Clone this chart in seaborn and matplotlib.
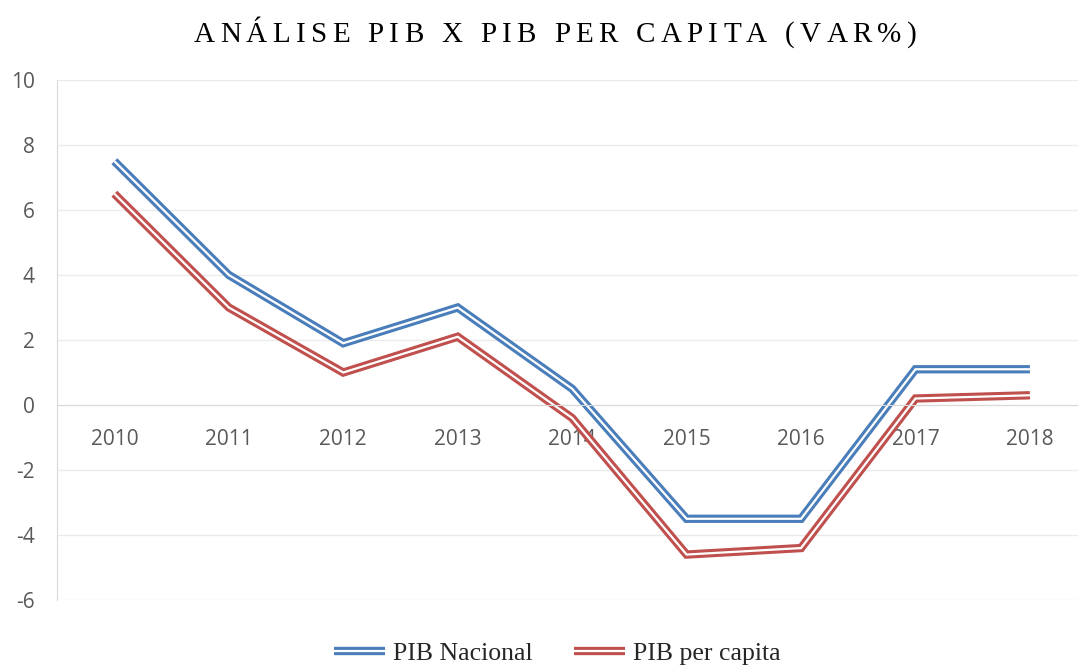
import matplotlib
matplotlib.use("Agg")
import matplotlib.pyplot as plt
import matplotlib.patheffects as pe
import seaborn as sns
import pandas as pd

years = ["2010", "2011", "2012", "2013", "2014", "2015", "2016", "2017", "2018"]
pib_nacional = [7.5, 4.0, 1.9, 3.0, 0.5, -3.5, -3.5, 1.1, 1.1]
pib_per_capita = [6.5, 3.0, 1.0, 2.1, -0.4, -4.6, -4.4, 0.2, 0.3]
series_names = ["PIB Nacional", "PIB per capita"]
colors = ["#4a7ebb", "#c0504d"]
title_text = "ANÁLISE PIB X PIB PER CAPITA (VAR%)"


def double_line(c):
    # Excel-style compound line: thick coloured stroke with a thin white core
    return [pe.Stroke(linewidth=6.0, foreground=c, capstyle="butt", joinstyle="miter"),
            pe.Normal()]


df = pd.DataFrame({
    "ano": list(range(len(years))) * 2,
    "valor": pib_nacional + pib_per_capita,
    "serie": [series_names[0]] * len(years) + [series_names[1]] * len(years),
})

sns.set_style("white")
fig = plt.figure(figsize=(10.78, 6.66), dpi=100)
ax = fig.add_axes([0.053, 0.099, 0.947, 0.781])

sns.lineplot(data=df, x="ano", y="valor", hue="serie", palette=colors,
             ax=ax, legend=False)

for line, c in zip(ax.lines, colors):
    line.set_color("white")
    line.set_linewidth(1.6)
    line.set_solid_capstyle("butt")
    line.set_solid_joinstyle("miter")
    line.set_path_effects(double_line(c))

for s in ["top", "right"]:
    ax.spines[s].set_visible(False)
ax.spines["left"].set_color("#d9d9d9")
ax.spines["bottom"].set_color("#d9d9d9")
ax.spines["bottom"].set_position(("data", 0))

ax.set_ylim(-6, 10)
ax.set_xlim(-0.5, 8.42)
ax.set_yticks(range(-6, 11, 2))
ax.set_yticklabels([str(v) for v in range(-6, 11, 2)],
                   fontsize=15, color="#595959", family="Open Sans")
ax.set_xticks(range(len(years)))
ax.set_xticklabels(years, fontsize=15, color="#595959", family="Open Sans")
ax.tick_params(axis="both", length=0)
ax.tick_params(axis="x", pad=17.5)
ax.tick_params(axis="y", pad=16)
ax.set_xlabel("")
ax.set_ylabel("")

ax.grid(axis="y", color="#ebebeb", linewidth=1.0)
ax.grid(axis="x", visible=False)
ax.set_axisbelow(True)

# legend
handles = []
for name, c in zip(series_names, colors):
    h, = ax.plot([], [], color="white", lw=1.6, label=name,
                 solid_capstyle="butt")
    h.set_path_effects(double_line(c))
    handles.append(h)
fig.legend(handles=handles, loc="center", bbox_to_anchor=(0.517, 0.019),
           ncol=2, frameon=False, handlelength=2.0, handletextpad=0.3,
           columnspacing=1.6,
           prop={"family": "Liberation Serif", "size": 18.5})

# title with letter spacing
fig.canvas.draw()
renderer = fig.canvas.get_renderer()
tracking = 5.3
chars = []
total = 0.0
for ch in title_text:
    t = fig.text(0, 0, ch, fontsize=21, family="Liberation Serif", color="#000000")
    w = t.get_window_extent(renderer).width
    chars.append((t, w))
    total += w + tracking
total -= tracking
x = 555 - total / 2
for t, w in chars:
    t.set_position((x / 1078, 1 - 35 / 666))
    t.set_va("center")
    x += w + tracking

fig.savefig("out.png", dpi=100)
